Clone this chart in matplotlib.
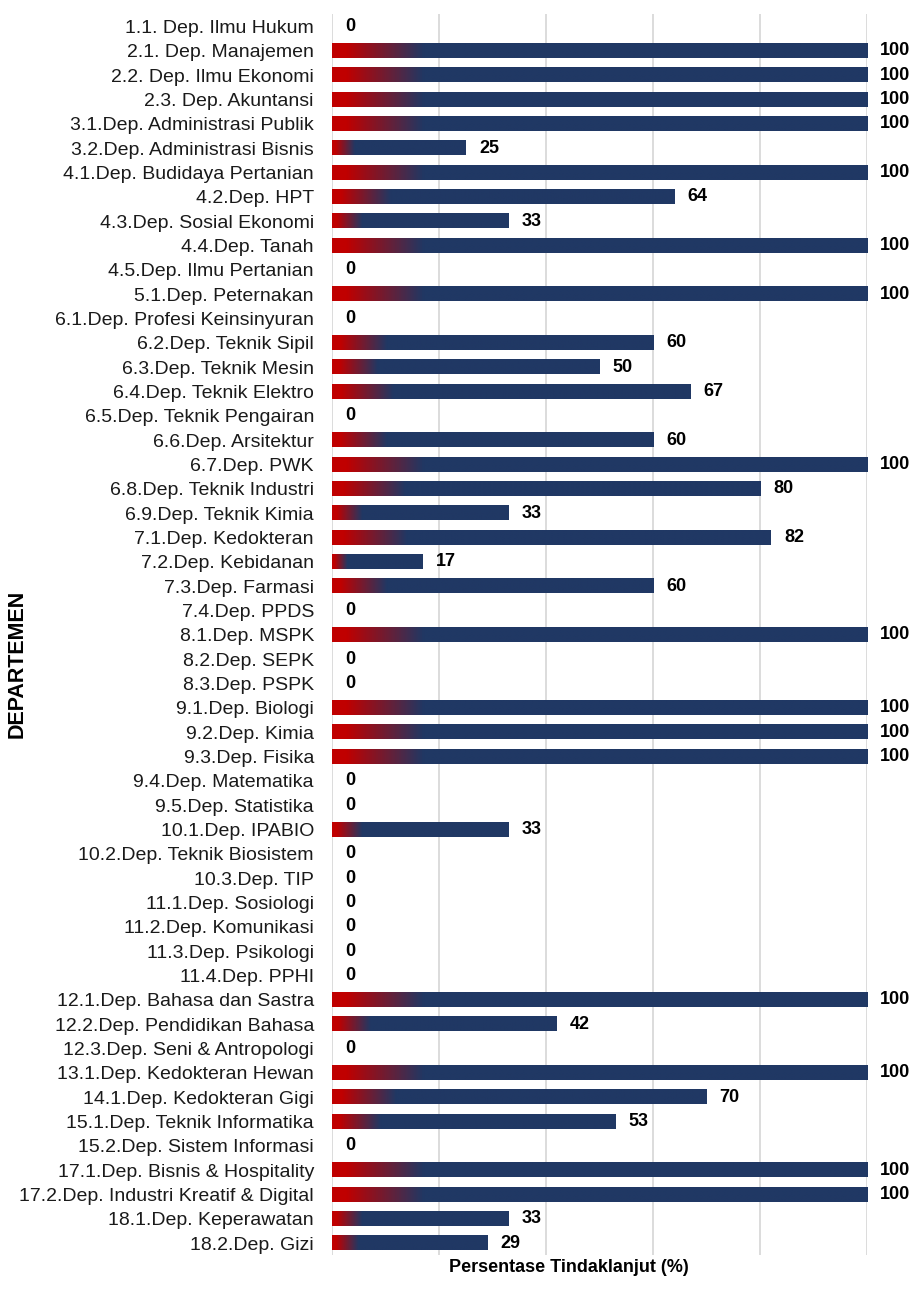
import numpy as np
import matplotlib
matplotlib.use("Agg")
import matplotlib.pyplot as plt
from matplotlib.colors import LinearSegmentedColormap

plt.rcParams['font.family'] = ['Liberation Sans', 'DejaVu Sans']

# data
departemen = [
    "1.1. Dep. Ilmu Hukum", "2.1. Dep. Manajemen", "2.2. Dep. Ilmu Ekonomi",
    "2.3. Dep. Akuntansi", "3.1.Dep. Administrasi Publik", "3.2.Dep. Administrasi Bisnis",
    "4.1.Dep. Budidaya Pertanian", "4.2.Dep. HPT", "4.3.Dep. Sosial Ekonomi",
    "4.4.Dep. Tanah", "4.5.Dep. Ilmu Pertanian", "5.1.Dep. Peternakan",
    "6.1.Dep. Profesi Keinsinyuran", "6.2.Dep. Teknik Sipil", "6.3.Dep. Teknik Mesin",
    "6.4.Dep. Teknik Elektro", "6.5.Dep. Teknik Pengairan", "6.6.Dep. Arsitektur",
    "6.7.Dep. PWK", "6.8.Dep. Teknik Industri", "6.9.Dep. Teknik Kimia",
    "7.1.Dep. Kedokteran", "7.2.Dep. Kebidanan", "7.3.Dep. Farmasi",
    "7.4.Dep. PPDS", "8.1.Dep. MSPK", "8.2.Dep. SEPK", "8.3.Dep. PSPK",
    "9.1.Dep. Biologi", "9.2.Dep. Kimia", "9.3.Dep. Fisika",
    "9.4.Dep. Matematika", "9.5.Dep. Statistika", "10.1.Dep. IPABIO",
    "10.2.Dep. Teknik Biosistem", "10.3.Dep. TIP", "11.1.Dep. Sosiologi",
    "11.2.Dep. Komunikasi", "11.3.Dep. Psikologi", "11.4.Dep. PPHI",
    "12.1.Dep. Bahasa dan Sastra", "12.2.Dep. Pendidikan Bahasa",
    "12.3.Dep. Seni & Antropologi", "13.1.Dep. Kedokteran Hewan",
    "14.1.Dep. Kedokteran Gigi", "15.1.Dep. Teknik Informatika",
    "15.2.Dep. Sistem Informasi", "17.1.Dep. Bisnis & Hospitality",
    "17.2.Dep. Industri Kreatif & Digital", "18.1.Dep. Keperawatan", "18.2.Dep. Gizi",
]
persentase = [
    0, 100, 100, 100, 100, 25, 100, 64, 33, 100, 0, 100,
    0, 60, 50, 67, 0, 60, 100, 80, 33, 82, 17, 60,
    0, 100, 0, 0, 100, 100, 100, 0, 0, 33,
    0, 0, 0, 0, 0, 0, 100, 42, 0, 100, 70, 53,
    0, 100, 100, 33, 29,
]

RED = '#C00000'
NAVY = '#203864'
cmap = LinearSegmentedColormap.from_list(
    'bar_grad', [(0.0, RED), (0.025, RED), (0.17, NAVY), (1.0, NAVY)])
grad = np.linspace(0, 1, 512).reshape(1, -1)

fig = plt.figure(figsize=(9.14, 12.89), dpi=100)
ax = fig.add_axes([0.3632, 0.026, 0.5854, 0.9628])

bar_h = 0.58
for i, v in enumerate(persentase):
    if v > 0:
        ax.imshow(grad, cmap=cmap, aspect='auto', interpolation='bilinear',
                  extent=[0, v, i + bar_h / 2, i - bar_h / 2], zorder=2)
    ax.annotate(f"{v}", xy=(v, i), xytext=(9.5, 0), textcoords='offset points',
                ha='left', va='center', fontsize=13, fontweight='bold', color='black')

ax.set_xlim(0, 100)
ax.set_ylim(len(departemen) - 0.5, -0.5)
ax.set_yticks(range(len(departemen)))
ax.set_yticklabels(departemen, fontsize=14, color='#1a1a1a')
ax.set_xticks([0, 20, 40, 60, 80, 100])
ax.set_xticklabels([])
ax.tick_params(axis='both', length=0)
ax.tick_params(axis='y', pad=13)
ax.grid(axis='x', color='#D9D9D9', linewidth=1.3, zorder=0)
ax.set_axisbelow(True)
for s in ax.spines.values():
    s.set_visible(False)

ax.set_xlabel('Persentase Tindaklanjut (%)', fontsize=13, fontweight='bold')
ax.xaxis.set_label_coords(0.443, -0.003)
ax.set_ylabel('DEPARTEMEN', fontsize=15.5, fontweight='bold')
ax.yaxis.set_label_coords(-0.568, 0.477)

fig.savefig('out.png', dpi=100)
